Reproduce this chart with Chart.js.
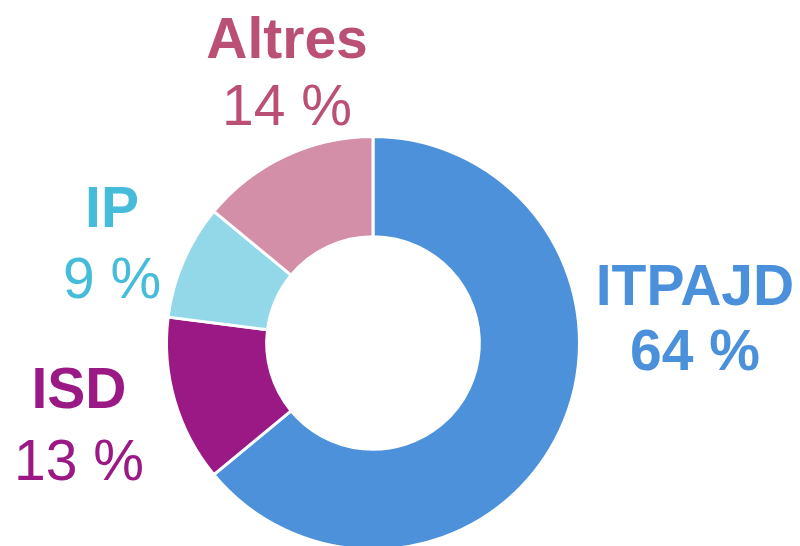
<!DOCTYPE html>
<html>
<head>
<meta charset="utf-8">
<script src="https://cdn.jsdelivr.net/npm/chart.js@4/dist/chart.umd.min.js"></script>
<style>
  html, body { margin: 0; padding: 0; background: #fff; overflow: hidden; }
  #wrap { width: 800px; height: 560px; position: relative; }
</style>
</head>
<body>
<div id="wrap"><canvas id="chart"></canvas></div>
<script>
// tax share of revenue (%)
var categories = ['ITPAJD', 'ISD', 'IP', 'Altres'];
var shares = [64, 13, 9, 14];
var sliceColors = ['#4D91DA', '#9B1984', '#92D8E8', '#D48FA8'];
var textColors = ['#4A90DA', '#9B1984', '#45BCD9', '#BA5075'];

// where each label sits (name baseline, percent baseline)
var labelSpots = [
    { x: 695, y1: 305, y2: 370, boldPct: true },
    { x: 79, y1: 408, y2: 480, boldPct: false },
    { x: 112, y1: 227, y2: 298, boldPct: false },
    { x: 287, y1: 58, y2: 125, boldPct: false }
];

var labelPlugin = {
    id: 'sliceLabels',
    afterDraw: function(chart) {
        var ctx = chart.ctx;
        ctx.save();
        ctx.textAlign = 'center';
        ctx.textBaseline = 'alphabetic';
        for (var i = 0; i < categories.length; i++) {
            var s = labelSpots[i];
            ctx.fillStyle = textColors[i];
            ctx.font = 'bold 57px "Liberation Sans", Arial, sans-serif';
            ctx.fillText(categories[i], s.x, s.y1);
            ctx.font = (s.boldPct ? 'bold ' : '') + '57px "Liberation Sans", Arial, sans-serif';
            ctx.fillText(shares[i] + ' %', s.x, s.y2);
        }
        ctx.restore();
    }
};

var ctx = document.getElementById('chart');
var chart = new Chart(ctx, {
    type: 'doughnut',
    data: {
        labels: categories,
        datasets: [{
            data: shares,
            backgroundColor: sliceColors,
            borderColor: '#ffffff',
            borderWidth: 3
        }]
    },
    options: {
        responsive: true,
        maintainAspectRatio: false,
        animation: false,
        cutout: '51.5%',
        layout: { padding: { left: 165, right: 219, top: 135, bottom: 9 } },
        plugins: {
            legend: { display: false },
            tooltip: { enabled: false }
        }
    },
    plugins: [labelPlugin]
});
</script>
</body>
</html>
